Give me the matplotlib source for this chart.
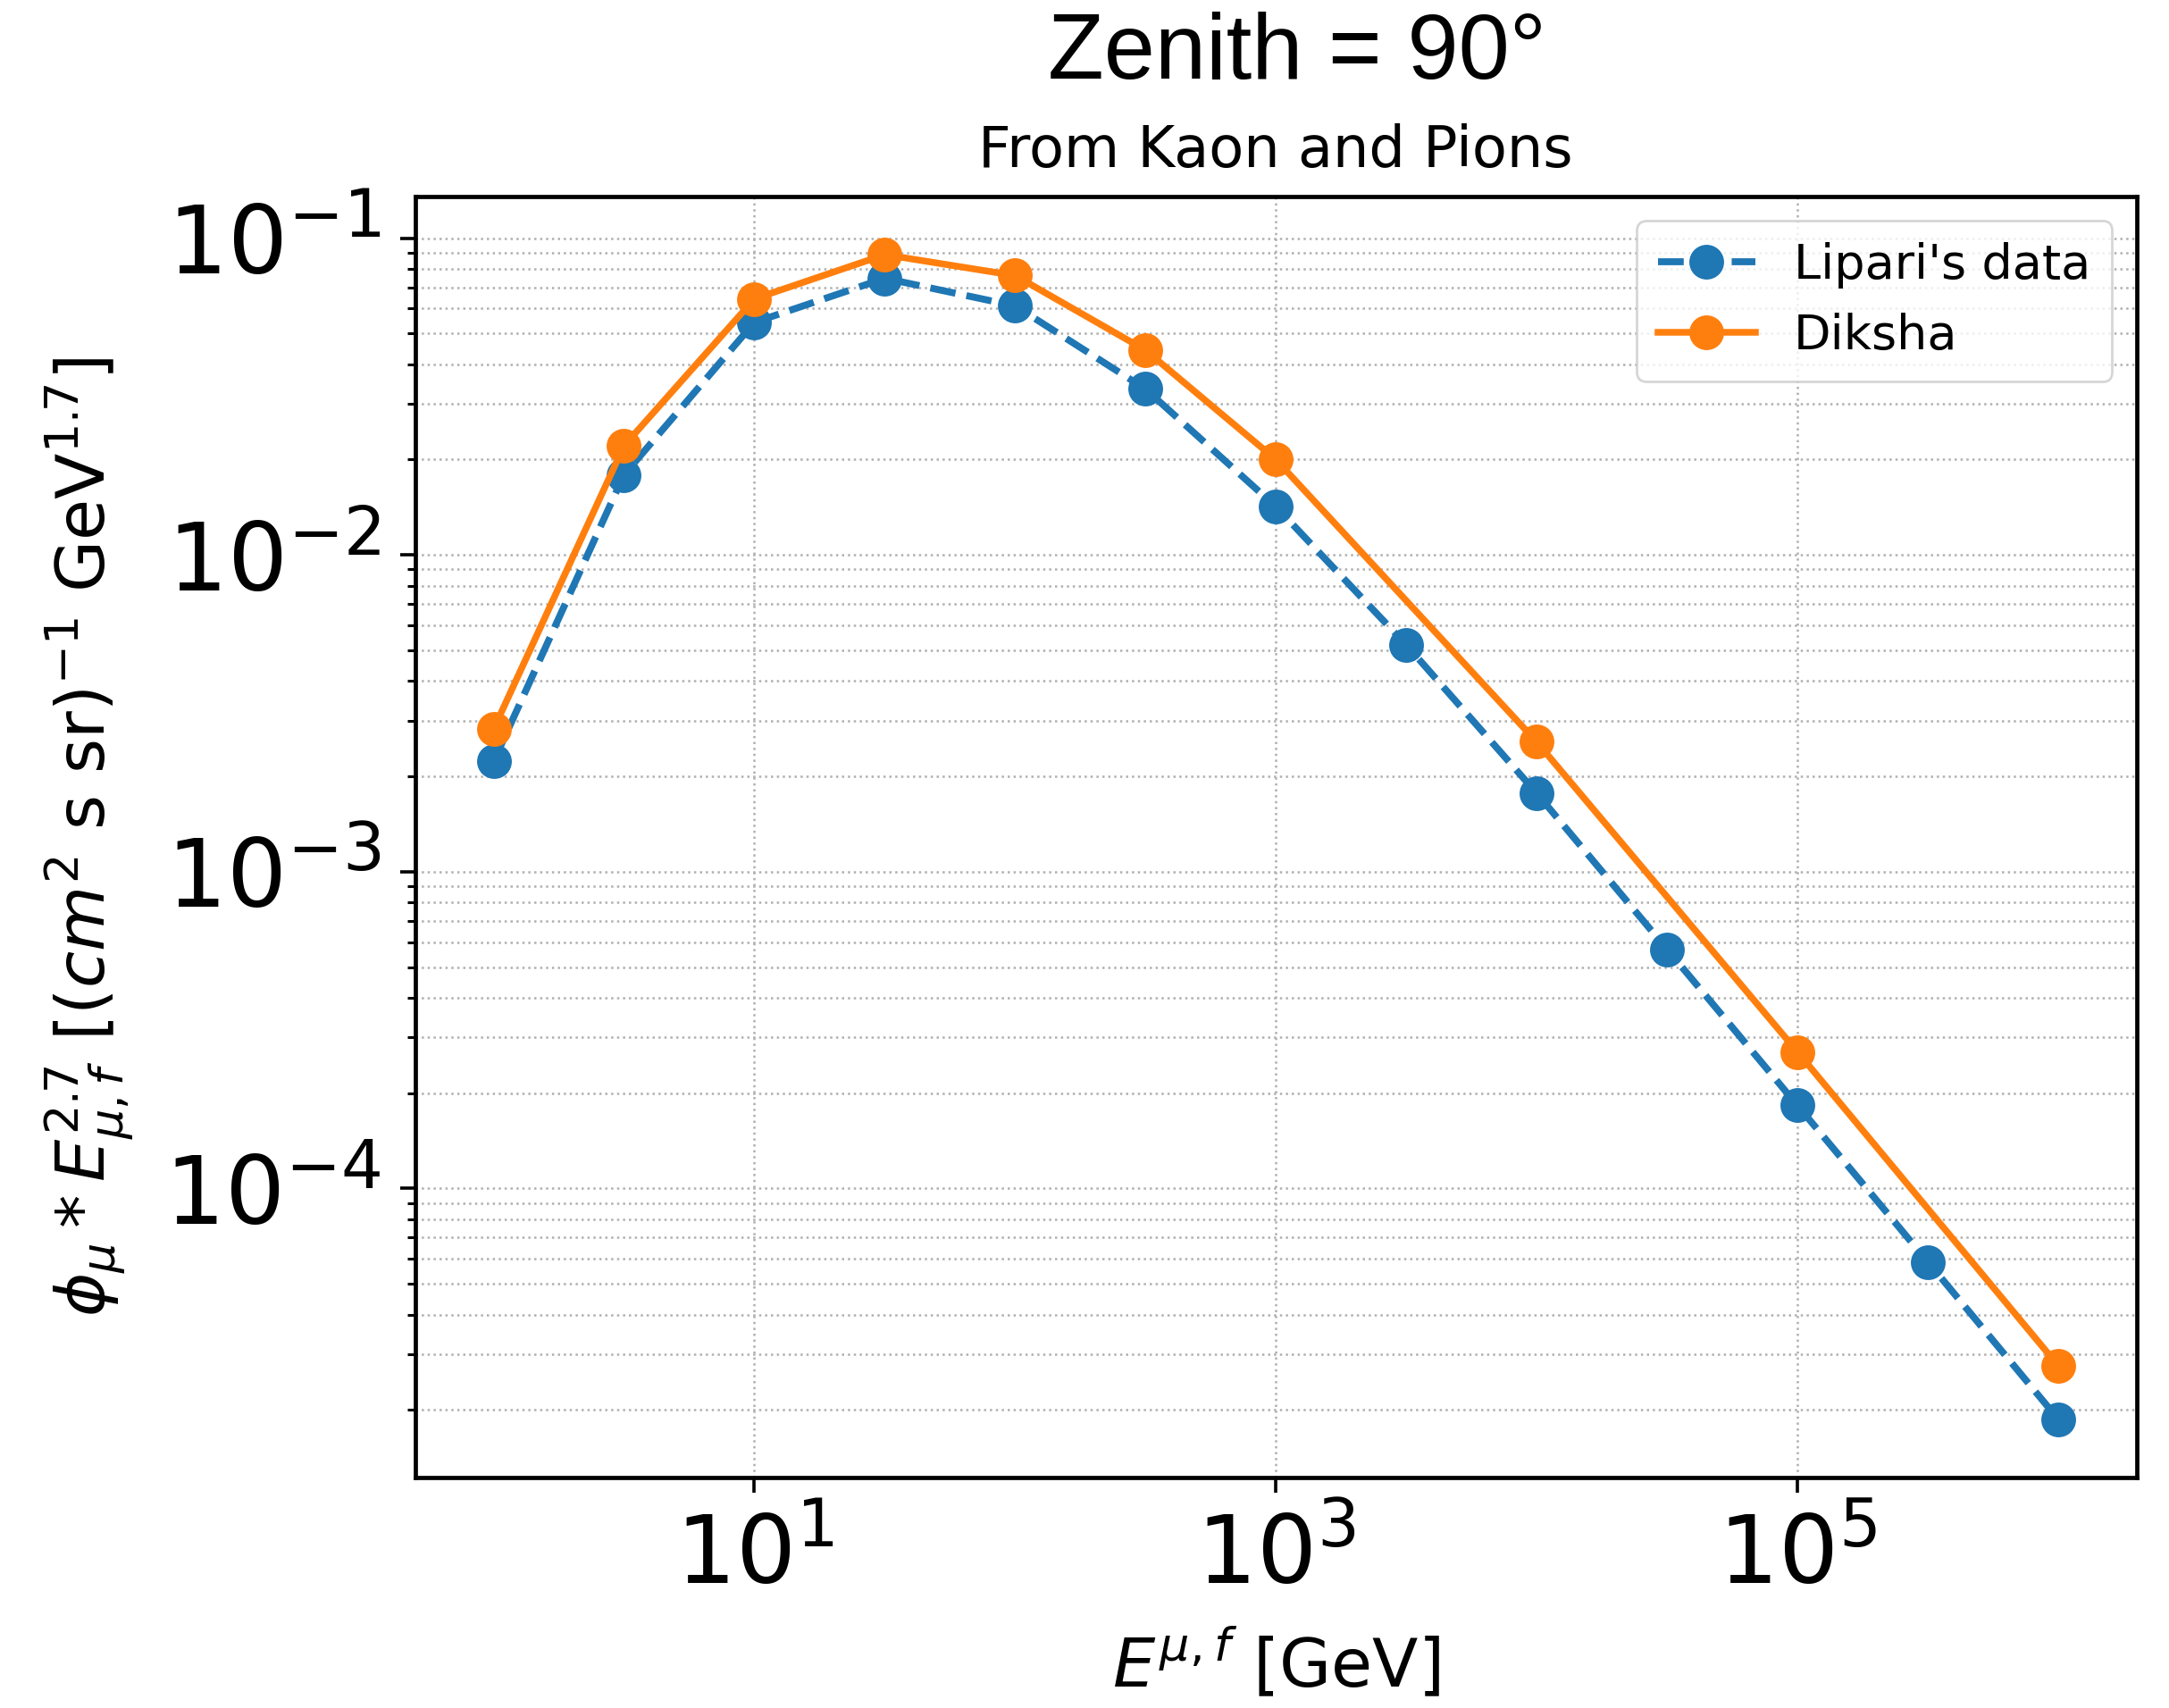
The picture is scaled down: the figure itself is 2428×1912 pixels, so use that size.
import matplotlib
matplotlib.use("Agg")
import matplotlib.pyplot as plt
from matplotlib.ticker import LogLocator, NullLocator, LogFormatterSciNotation

# Muon energy grid [GeV]
energy_lipari = [1.0, 3.162, 10.0, 31.62, 100.0, 316.2, 1000.0, 3162.0,
                 1.0e4, 3.162e4, 1.0e5, 3.162e5, 1.0e6]
flux_lipari = [2.23e-3, 1.79e-2, 5.42e-2, 7.47e-2, 6.11e-2, 3.34e-2, 1.42e-2,
               5.2e-3, 1.77e-3, 5.69e-4, 1.83e-4, 5.87e-5, 1.87e-5]

energy_diksha = [1.0, 3.162, 10.0, 31.62, 100.0, 316.2, 1000.0, 1.0e4, 1.0e5, 1.0e6]
flux_diksha = [2.82e-3, 2.21e-2, 6.43e-2, 8.87e-2, 7.62e-2, 4.43e-2, 2.00e-2,
               2.57e-3, 2.70e-4, 2.76e-5]

x_major_ticks = [1e1, 1e3, 1e5]

DPI = 200
fig = plt.figure(figsize=(2428 / DPI, 1912 / DPI), dpi=DPI)
ax = fig.add_axes([0.1915, 0.135, 0.7935, 0.750])

ax.plot(energy_lipari, flux_lipari, linestyle="--", marker="o", color="#1f77b4",
        linewidth=2.8, markersize=13, label="Lipari's data")
ax.plot(energy_diksha, flux_diksha, linestyle="-", marker="o", color="#ff7f0e",
        linewidth=2.7, markersize=13, label="Diksha")

ax.set_xscale("log")
ax.set_yscale("log")

ax.xaxis.set_major_locator(plt.FixedLocator(x_major_ticks))
ax.xaxis.set_major_formatter(LogFormatterSciNotation())
ax.xaxis.set_minor_locator(NullLocator())
ax.yaxis.set_major_locator(LogLocator(base=10, numticks=20))
ax.yaxis.set_minor_locator(LogLocator(base=10, subs=range(2, 10), numticks=20))

ax.grid(True, which="both", linestyle=":", color="#b0b0b0", linewidth=0.9)

ax.tick_params(axis="both", which="major", labelsize=38, length=6, width=1.3, pad=8)
ax.tick_params(axis="y", which="minor", length=3.3, width=1.1)
for s in ax.spines.values():
    s.set_linewidth(1.7)

ax.set_xlabel(r"$E^{\mu,f}$ [GeV]", fontsize=27, labelpad=10)
ax.set_ylabel(r"$\phi_\mu * E_{\mu,f}^{2.7}$ [$(cm^2$ s sr$)^{-1}$ GeV$^{1.7}$]",
              fontsize=27, labelpad=12)
ax.set_title("From Kaon and Pions", fontsize=23, pad=12)

fig.text(0.598, 0.993, "Zenith = 90°", fontsize=37, family="Liberation Sans",
         ha="center", va="top")

leg = ax.legend(loc="upper right", fontsize=19.5, frameon=True, framealpha=0.8,
                edgecolor="#cccccc", handlelength=2.0, borderpad=0.45)

fig.savefig("out.png", dpi=DPI)
